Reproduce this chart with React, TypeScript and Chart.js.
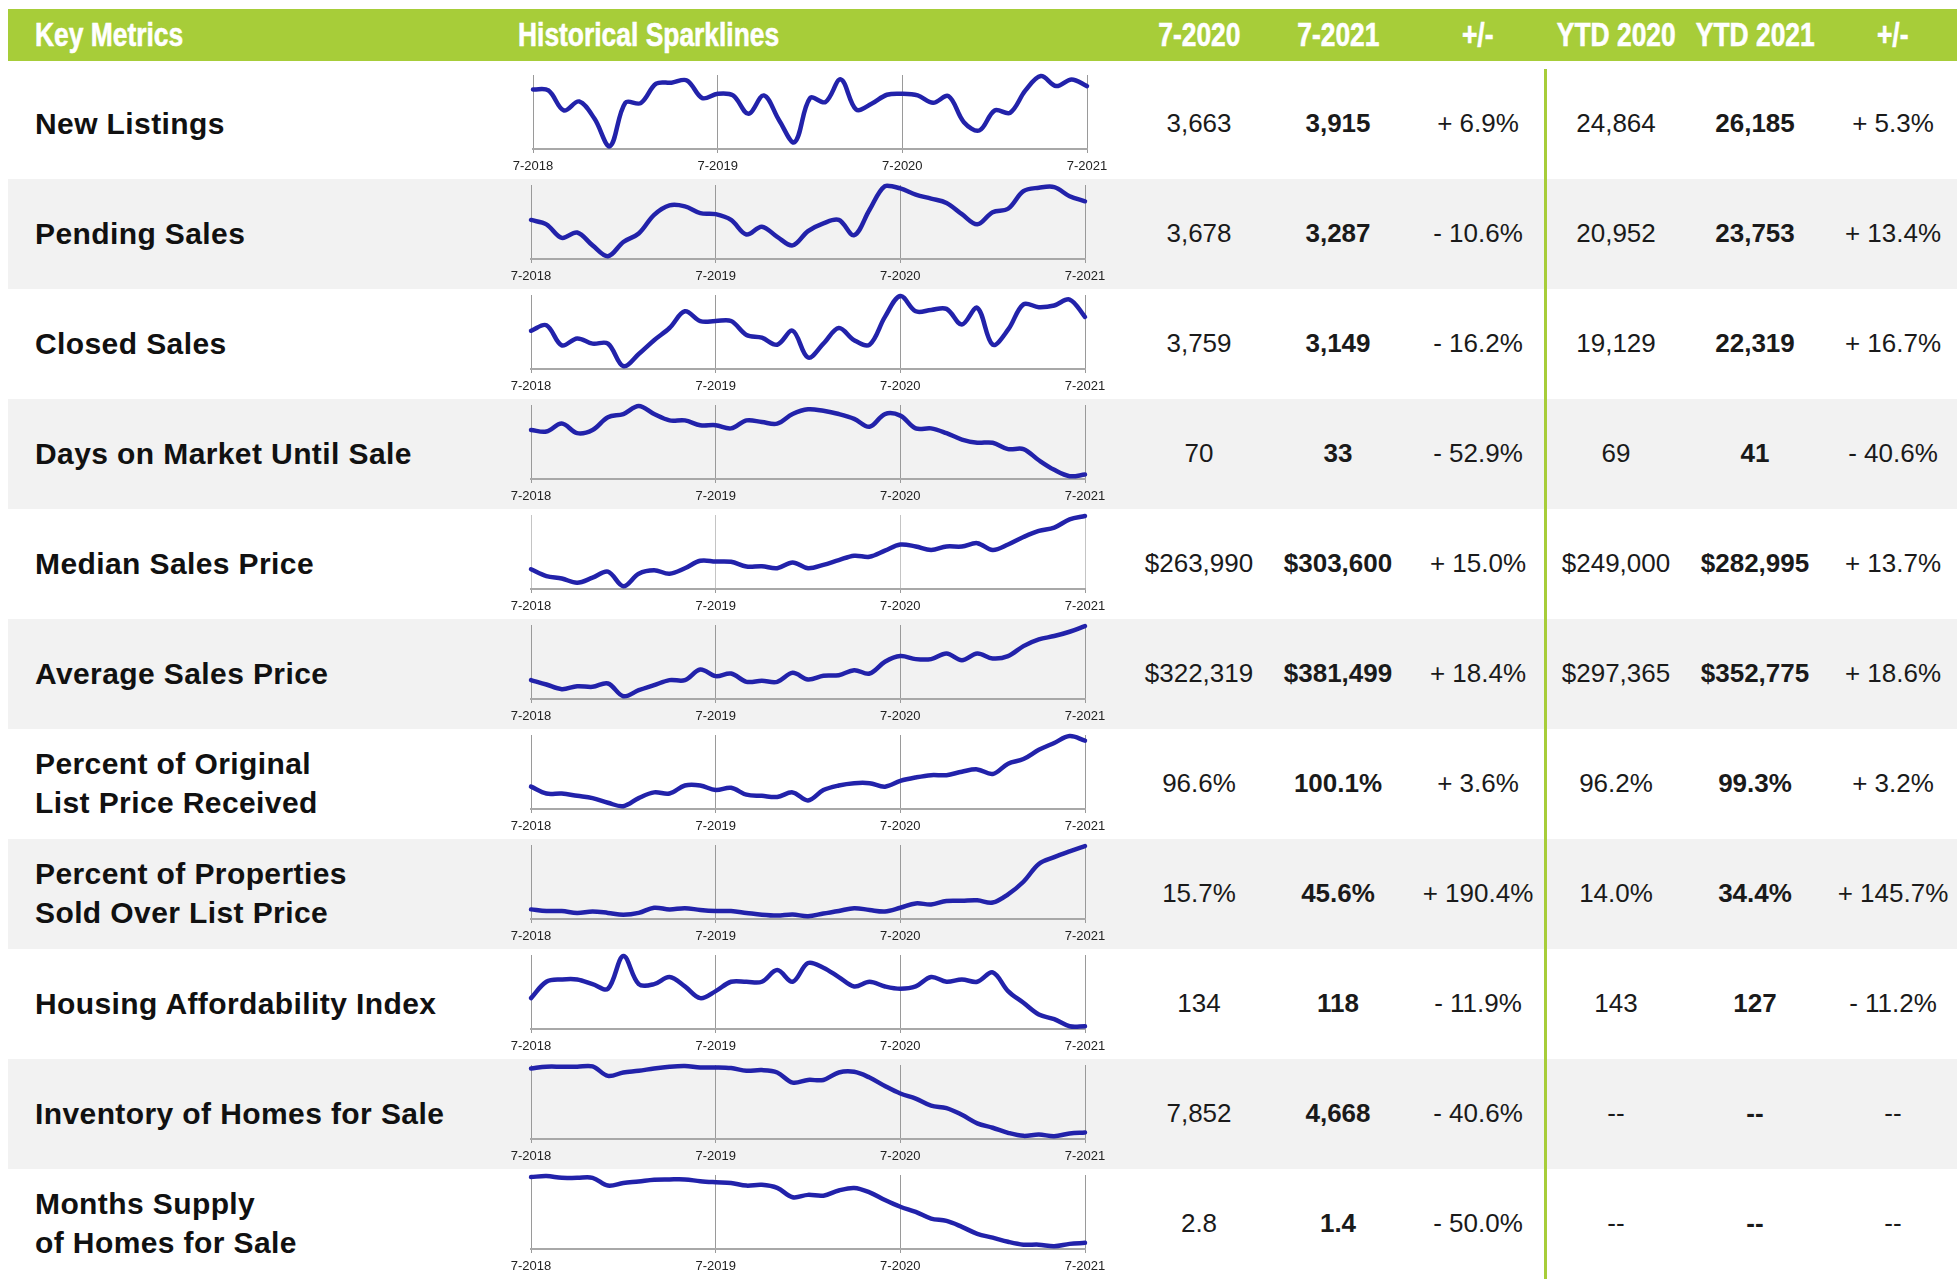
import React, { useEffect, useRef } from 'react';
import { Chart, registerables } from 'chart.js';

Chart.register(...registerables);

// ---------- DATA ----------
const months = [
  '7-2018', '8-2018', '9-2018', '10-2018', '11-2018', '12-2018', '1-2019', '2-2019', '3-2019', '4-2019', '5-2019', '6-2019',
  '7-2019', '8-2019', '9-2019', '10-2019', '11-2019', '12-2019', '1-2020', '2-2020', '3-2020', '4-2020', '5-2020', '6-2020',
  '7-2020', '8-2020', '9-2020', '10-2020', '11-2020', '12-2020', '1-2021', '2-2021', '3-2021', '4-2021', '5-2021', '6-2021',
  '7-2021',
];
const tickLabels = ['7-2018', '7-2019', '7-2020', '7-2021'];

const headers = ['Key Metrics', 'Historical Sparklines', '7-2020', '7-2021', '+/-', 'YTD 2020', 'YTD 2021', '+/-'];

const metricNames = [
  ['New Listings'],
  ['Pending Sales'],
  ['Closed Sales'],
  ['Days on Market Until Sale'],
  ['Median Sales Price'],
  ['Average Sales Price'],
  ['Percent of Original', 'List Price Received'],
  ['Percent of Properties', 'Sold Over List Price'],
  ['Housing Affordability Index'],
  ['Inventory of Homes for Sale'],
  ['Months Supply', 'of Homes for Sale'],
];

const month2020 = ['3,663', '3,678', '3,759', '70', '$263,990', '$322,319', '96.6%', '15.7%', '134', '7,852', '2.8'];
const month2021 = ['3,915', '3,287', '3,149', '33', '$303,600', '$381,499', '100.1%', '45.6%', '118', '4,668', '1.4'];
const monthChange = ['+ 6.9%', '- 10.6%', '- 16.2%', '- 52.9%', '+ 15.0%', '+ 18.4%', '+ 3.6%', '+ 190.4%', '- 11.9%', '- 40.6%', '- 50.0%'];
const ytd2020 = ['24,864', '20,952', '19,129', '69', '$249,000', '$297,365', '96.2%', '14.0%', '143', '--', '--'];
const ytd2021 = ['26,185', '23,753', '22,319', '41', '$282,995', '$352,775', '99.3%', '34.4%', '127', '--', '--'];
const ytdChange = ['+ 5.3%', '+ 13.4%', '+ 16.7%', '- 40.6%', '+ 13.7%', '+ 18.6%', '+ 3.2%', '+ 145.7%', '- 11.2%', '--', '--'];

const newListings = [3806, 3773, 3113, 3410, 2838, 1936, 3366, 3355, 3993, 4026, 4103, 3520, 3663, 3608, 3003, 3608, 2783, 2068, 3520, 3388, 4136, 3146, 3333, 3630, 3663, 3608, 3366, 3586, 2728, 2453, 3113, 3036, 3773, 4246, 3916, 4136, 3915];
const pendingSales = [2721, 2587, 2176, 2340, 1949, 1620, 2052, 2309, 2875, 3163, 3133, 2927, 2896, 2721, 2279, 2515, 2207, 1949, 2381, 2618, 2721, 2258, 3030, 3750, 3678, 3493, 3369, 3236, 2896, 2587, 2958, 3061, 3596, 3699, 3719, 3441, 3287];
const closedSales = [2742, 2905, 2315, 2518, 2366, 2366, 1705, 2061, 2467, 2823, 3312, 3027, 3027, 3027, 2620, 2539, 2335, 2742, 1959, 2366, 2823, 2467, 2335, 3149, 3759, 3312, 3352, 3383, 2925, 3413, 2335, 2773, 3515, 3434, 3484, 3657, 3149];
const daysOnMarket = [61, 60, 65, 59, 61, 69, 71, 76, 71, 67, 67, 64, 64, 62, 67, 66, 65, 71, 74, 73, 71, 68, 63, 71, 70, 62, 62, 59, 55, 53, 53, 49, 49, 42, 36, 32, 33];
const medianPrice = [229600, 220100, 216800, 210700, 217800, 226300, 206000, 223400, 228200, 223400, 231000, 241400, 240400, 239900, 233300, 233800, 231000, 239000, 231000, 235700, 242300, 248400, 247000, 255500, 263990, 261200, 256400, 261200, 261200, 265900, 256400, 263990, 274400, 282900, 287600, 298900, 303600];
const averagePrice = [275000, 266400, 257200, 263100, 261800, 268400, 243400, 255200, 265100, 275000, 275000, 296000, 282900, 288100, 271700, 273700, 271700, 289400, 276300, 283500, 284800, 294700, 288100, 311100, 322319, 316400, 316400, 327600, 314400, 327600, 317700, 322319, 342000, 355200, 361800, 370300, 381499];
const pctOriginalList = [96.1, 95.5, 95.5, 95.3, 95.1, 94.7, 94.4, 95.1, 95.6, 95.5, 96.2, 96.2, 95.8, 96.0, 95.4, 95.3, 95.2, 95.6, 94.9, 95.8, 96.2, 96.4, 96.4, 96.1, 96.6, 96.9, 97.1, 97.1, 97.4, 97.6, 97.2, 98.1, 98.5, 99.3, 99.9, 100.5, 100.1];
const pctOverList = [14.9, 14.1, 14.1, 13.2, 13.9, 13.2, 12.3, 13.2, 15.7, 14.9, 15.5, 14.6, 14.1, 14.1, 13.2, 12.3, 11.9, 12.4, 11.6, 12.9, 14.1, 15.5, 14.6, 13.9, 15.7, 17.8, 17.3, 19.0, 19.1, 19.3, 18.2, 22.2, 28.3, 36.9, 40.2, 43.0, 45.6];
const affordability = [130, 137, 138, 138, 136, 134, 148, 136, 136, 139, 135, 130, 133, 137, 137, 137, 142, 137, 145, 143, 139, 135, 137, 135, 134, 135, 139, 137, 138, 137, 141, 133, 128, 123, 121, 118, 118];
const inventory = [9901, 10040, 10040, 10040, 10067, 9292, 9569, 9707, 9901, 10040, 10095, 9984, 9984, 9929, 9707, 9763, 9569, 8738, 8960, 8960, 9569, 9624, 9153, 8461, 7852, 7437, 6855, 6661, 6108, 5415, 5055, 4640, 4391, 4502, 4363, 4585, 4668];
const monthsSupply = [3.95, 3.99, 3.92, 3.92, 3.92, 3.62, 3.72, 3.78, 3.85, 3.86, 3.86, 3.79, 3.75, 3.72, 3.62, 3.65, 3.53, 3.17, 3.26, 3.23, 3.43, 3.53, 3.36, 3.06, 2.8, 2.6, 2.34, 2.25, 2.02, 1.75, 1.6, 1.44, 1.33, 1.33, 1.27, 1.36, 1.4];

const sparkSeries = [newListings, pendingSales, closedSales, daysOnMarket, medianPrice, averagePrice, pctOriginalList, pctOverList, affordability, inventory, monthsSupply];
const dashedGridRows = [4];

// ---------- LAYOUT ----------
const GREEN = '#a7cd39';
const ROW_TOP = 69;
const ROW_H = 110;
const SPARK_LEFT = 531;
const SPARK_W = 554;
const PAD_X = 30;
const colCenters = [1199, 1338, 1478, 1616, 1755, 1893];
const LINE_COLOR = '#2222aa';

function Sparkline({ values, top, left, dashed }: { values: number[]; top: number; left: number; dashed: boolean }) {
  const ref = useRef<HTMLCanvasElement | null>(null);
  useEffect(() => {
    if (!ref.current) return;
    const min = Math.min(...values);
    const max = Math.max(...values);
    const range = max - min || 1;
    const gridColor = dashed ? '#c4c4c4' : '#9a9a9a';
    const chart = new Chart(ref.current, {
      type: 'line',
      data: {
        labels: months,
        datasets: [
          {
            data: values,
            borderColor: LINE_COLOR,
            borderWidth: 4.5,
            pointRadius: 0,
            tension: 0.35,
            fill: false,
            clip: false as any,
            borderCapStyle: 'round',
            borderJoinStyle: 'round',
          },
        ],
      },
      options: {
        animation: false,
        responsive: false,
        maintainAspectRatio: false,
        devicePixelRatio: 1,
        events: [],
        layout: { padding: { left: PAD_X, right: PAD_X, top: 6, bottom: 0 } },
        plugins: { legend: { display: false }, tooltip: { enabled: false } },
        scales: {
          x: {
            type: 'category',
            afterFit: (s: any) => {
              s.height = 30;
            },
            border: { display: true, color: '#a8a8a8', width: 2 },
            grid: {
              display: true,
              color: (ctx: any) => (tickLabels.includes(months[ctx.index]) ? gridColor : 'rgba(0,0,0,0)'),
              tickColor: (ctx: any) => (tickLabels.includes(months[ctx.index]) ? '#9a9a9a' : 'rgba(0,0,0,0)'),
              lineWidth: 1,
              drawTicks: true,
              tickLength: 4,
              borderDash: dashed ? [3, 3] : [],
            } as any,
            ticks: {
              autoSkip: false,
              maxRotation: 0,
              minRotation: 0,
              padding: 6,
              color: '#222',
              font: { family: '"Liberation Sans", Arial, sans-serif', size: 13 },
              callback: (_v: any, i: number) => (tickLabels.includes(months[i]) ? months[i] : ''),
            },
          },
          y: {
            display: false,
            min: min - range * 0.04,
            max: max + range * 0.015,
          },
        },
      },
    });
    return () => chart.destroy();
  }, [values, dashed]);
  return (
    <canvas
      ref={ref}
      width={SPARK_W + PAD_X * 2}
      height={ROW_H}
      style={{ position: 'absolute', left: left - PAD_X, top, width: SPARK_W + PAD_X * 2, height: ROW_H }}
    />
  );
}

function HeaderText({ text, left, center }: { text: string; left?: number; center?: number }) {
  const style: React.CSSProperties = {
    position: 'absolute',
    top: 9,
    height: 52,
    lineHeight: '52px',
    color: '#fff',
    fontFamily: '"Liberation Sans", Arial, sans-serif',
    fontWeight: 700,
    fontSize: 33,
    whiteSpace: 'nowrap',
    WebkitTextStroke: '0.6px #fff',
  };
  if (center !== undefined) {
    return (
      <div style={{ ...style, left: center - 100, width: 200, textAlign: 'center' }}>
        <span style={{ display: 'inline-block', transform: 'scaleX(0.8)', transformOrigin: 'center' }}>{text}</span>
      </div>
    );
  }
  return (
    <div style={{ ...style, left }}>
      <span style={{ display: 'inline-block', transform: 'scaleX(0.8)', transformOrigin: 'left' }}>{text}</span>
    </div>
  );
}

export default function App() {
  const bodyFont = '"Liberation Sans", Arial, Helvetica, sans-serif';
  const valueCols = [month2020, month2021, monthChange, ytd2020, ytd2021, ytdChange];
  const boldCols = [1, 4];
  return (
    <div
      style={{
        position: 'absolute',
        left: 0,
        top: 0,
        width: 1957,
        height: 1279,
        background: '#fff',
        overflow: 'hidden',
        fontFamily: bodyFont,
      }}
    >
      {/* header bar */}
      <div style={{ position: 'absolute', left: 8, top: 9, width: 1949, height: 52, background: GREEN }} />
      <HeaderText text={headers[0]} left={35} />
      <HeaderText text={headers[1]} left={518} />
      {colCenters.map((c, i) => (
        <HeaderText key={'h' + i} text={headers[i + 2]} center={c} />
      ))}

      {/* rows */}
      {metricNames.map((name, r) => {
        const top = ROW_TOP + r * ROW_H;
        return (
          <React.Fragment key={'r' + r}>
            {r % 2 === 1 && (
              <div style={{ position: 'absolute', left: 8, top, width: 1949, height: ROW_H, background: '#f2f2f2' }} />
            )}
            <div
              style={{
                position: 'absolute',
                left: 35,
                top: top - 1,
                height: ROW_H,
                display: 'flex',
                flexDirection: 'column',
                justifyContent: 'center',
                fontWeight: 700,
                fontSize: 30,
                letterSpacing: 0.4,
                lineHeight: '39px',
                color: '#111',
                whiteSpace: 'nowrap',
              }}
            >
              {name.map((line, k) => (
                <div key={k}>{line}</div>
              ))}
            </div>
            {valueCols.map((col, c) => (
              <div
                key={'v' + c}
                style={{
                  position: 'absolute',
                  left: colCenters[c] - 80,
                  width: 160,
                  top: top - 1,
                  height: ROW_H,
                  lineHeight: ROW_H + 'px',
                  textAlign: 'center',
                  fontSize: 26,
                  fontWeight: boldCols.includes(c) ? 700 : 400,
                  color: '#1a1a1a',
                  whiteSpace: 'nowrap',
                }}
              >
                {col[r]}
              </div>
            ))}
          </React.Fragment>
        );
      })}

      {/* divider */}
      <div style={{ position: 'absolute', left: 1544, top: ROW_TOP, width: 3, height: 1279 - ROW_TOP, background: GREEN }} />

      {/* sparklines */}
      {sparkSeries.map((s, r) => (
        <Sparkline
          key={'s' + r}
          values={s}
          top={ROW_TOP + r * ROW_H}
          left={r === 0 ? SPARK_LEFT + 2 : SPARK_LEFT}
          dashed={dashedGridRows.includes(r)}
        />
      ))}
    </div>
  );
}
